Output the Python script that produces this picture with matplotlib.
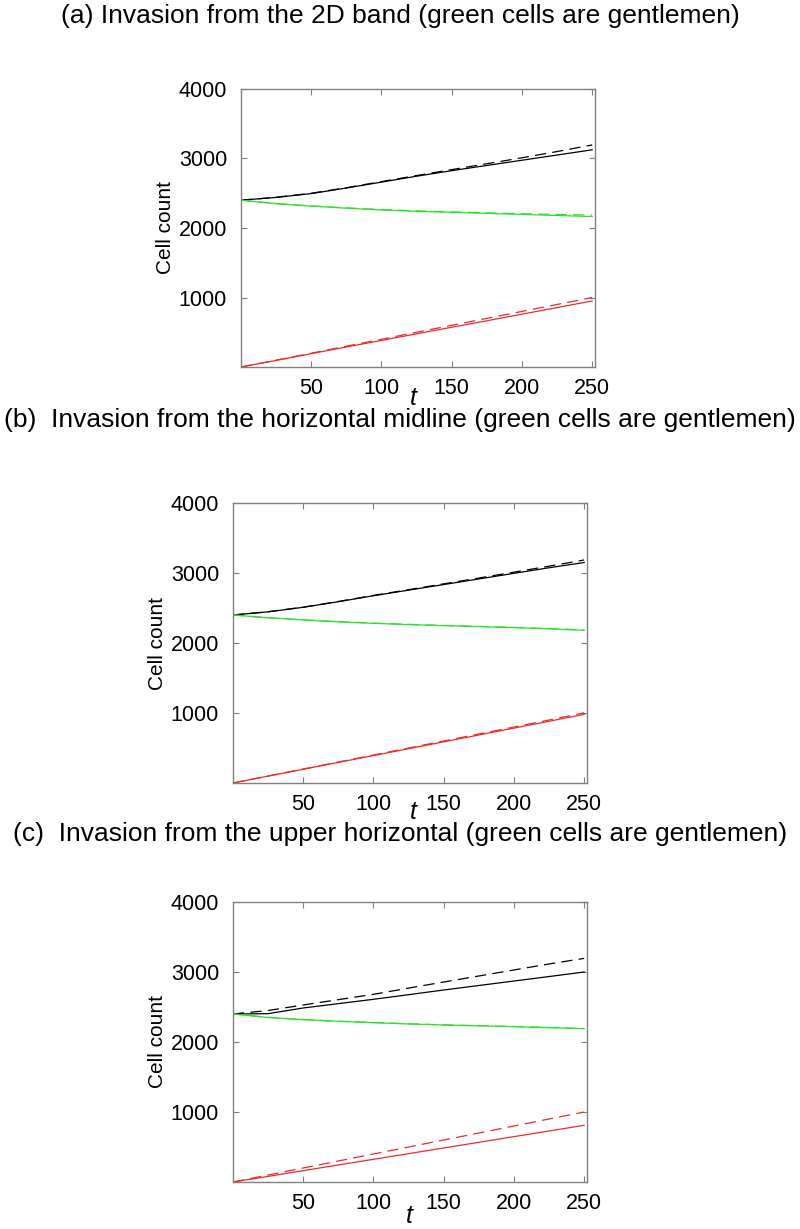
# ==========================================================
# CELL COUNT OVER TIME - THREE INVASION SCENARIOS
# ==========================================================

import matplotlib
matplotlib.use("Agg")

import matplotlib.pyplot as plt

# ==========================================================
# DATA
# ==========================================================

t = [0, 25, 50, 75, 100, 125, 150, 175, 200, 225, 250]

# (a) 2D band
a_total = [2400, 2440, 2495, 2575, 2660, 2745, 2825, 2900, 2975, 3050, 3125]
a_total_th = [2400, 2442, 2500, 2580, 2668, 2755, 2840, 2925, 3010, 3100, 3195]
a_green = [2400, 2350, 2314, 2285, 2260, 2240, 2225, 2210, 2195, 2180, 2165]
a_green_th = [2400, 2352, 2318, 2290, 2265, 2248, 2232, 2218, 2205, 2195, 2185]
a_red = [0, 95, 192, 288, 382, 478, 572, 665, 760, 855, 950]
a_red_th = [0, 98, 198, 300, 398, 500, 600, 700, 800, 900, 1000]

# (b) horizontal midline
b_total = [2400, 2445, 2510, 2590, 2675, 2755, 2835, 2915, 2995, 3075, 3150]
b_total_th = [2400, 2447, 2512, 2593, 2680, 2762, 2845, 2928, 3012, 3098, 3186]
b_green = [2400, 2360, 2329, 2302, 2281, 2263, 2248, 2234, 2220, 2202, 2181]
b_green_th = [2400, 2361, 2331, 2305, 2284, 2266, 2251, 2237, 2223, 2206, 2188]
b_red = [0, 98, 196, 294, 392, 490, 588, 686, 784, 882, 981]
b_red_th = [0, 100, 200, 300, 400, 500, 600, 700, 800, 900, 1003]

# (c) upper horizontal
c_total = [2400, 2405, 2486, 2548, 2610, 2676, 2743, 2807, 2871, 2935, 3000]
c_total_th = [2400, 2450, 2529, 2605, 2681, 2770, 2857, 2943, 3029, 3115, 3195]
c_green = [2400, 2350, 2319, 2295, 2276, 2258, 2243, 2231, 2219, 2205, 2190]
c_green_th = [2400, 2352, 2321, 2297, 2278, 2260, 2245, 2233, 2221, 2207, 2192]
c_red = [0, 80, 162, 243, 324, 405, 486, 567, 648, 729, 810]
c_red_th = [0, 100, 200, 300, 400, 500, 600, 700, 800, 900, 1000]

titles = [
    "(a) Invasion from the 2D band (green cells are gentlemen)",
    "(b)  Invasion from the horizontal midline (green cells are gentlemen)",
    "(c)  Invasion from the upper horizontal (green cells are gentlemen)",
]

x_ticks = [50, 100, 150, 200, 250]
y_ticks = [1000, 2000, 3000, 4000]

# ==========================================================
# STYLE
# ==========================================================

plt.rcParams["font.family"] = ["Liberation Sans", "DejaVu Sans"]

W, H = 800, 1229

BLACK = "#000000"
GREEN = "#2ede2e"
RED = "#ee2a2a"
GRAY = "#808080"

DASH = (0, (9, 5))

# panel boxes in pixels: left, top, right, bottom
boxes = [
    (241, 89, 595, 367),
    (233, 503, 587, 783),
    (233, 902, 587, 1182),
]

title_y = [16, 420, 834]
t_label_xy = [(413, 398), (413, 812), (409, 1216)]

# ==========================================================
# DRAW
# ==========================================================

def draw_panel(fig, box, series):

    left, top, right, bottom = box

    ax = fig.add_axes([
        left / W,
        1 - bottom / H,
        (right - left) / W,
        (bottom - top) / H
    ])

    for values, color, style in series:

        ax.plot(t, values, color=color, linestyle=style, linewidth=0.9)

    ax.set_xlim(0, 252)
    ax.set_ylim(0, 4000)

    ax.set_xticks(x_ticks)
    ax.set_yticks(y_ticks)

    ax.tick_params(
        direction="in",
        top=True,
        right=True,
        length=4,
        width=0.8,
        color=GRAY,
        labelsize=15.5
    )

    ax.tick_params(axis="y", pad=10)
    ax.tick_params(axis="x", pad=8)

    for spine in ax.spines.values():
        spine.set_color(GRAY)
        spine.set_linewidth(1.0)

    ax.set_ylabel("Cell count", fontsize=15, labelpad=3)

    return ax


def main():

    fig = plt.figure(figsize=(W / 100, H / 100), dpi=100)

    all_series = [
        [(a_total, BLACK, "-"), (a_total_th, BLACK, DASH),
         (a_green, GREEN, "-"), (a_green_th, GREEN, DASH),
         (a_red, RED, "-"), (a_red_th, RED, DASH)],
        [(b_total, BLACK, "-"), (b_total_th, BLACK, DASH),
         (b_green, GREEN, "-"), (b_green_th, GREEN, DASH),
         (b_red, RED, "-"), (b_red_th, RED, DASH)],
        [(c_total, BLACK, "-"), (c_total_th, BLACK, DASH),
         (c_green, GREEN, "-"), (c_green_th, GREEN, DASH),
         (c_red, RED, "-"), (c_red_th, RED, DASH)],
    ]

    for i in range(3):

        draw_panel(fig, boxes[i], all_series[i])

        fig.text(
            0.5, 1 - title_y[i] / H, titles[i],
            ha="center", va="center", fontsize=19
        )

        tx, ty = t_label_xy[i]
        fig.text(
            tx / W, 1 - ty / H, "t",
            ha="center", va="center", fontsize=18, style="italic"
        )

    fig.savefig("out.png", dpi=100)
    plt.close(fig)


if __name__ == "__main__":

    main()
